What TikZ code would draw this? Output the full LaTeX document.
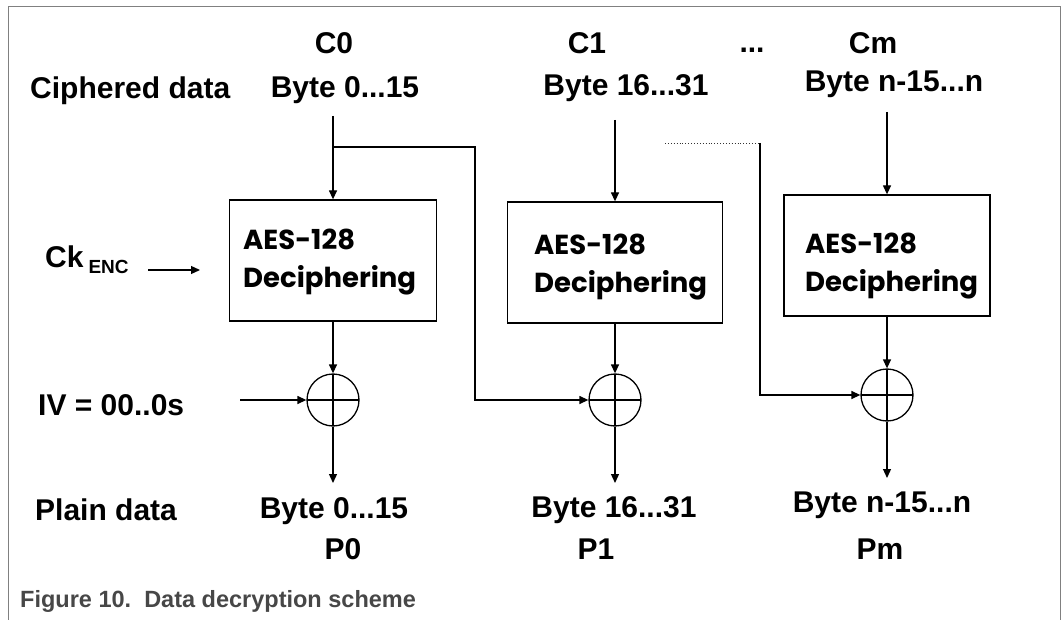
\documentclass[tikz,border=0pt]{standalone}
\usepackage{fontspec}
\setmainfont{Liberation Sans}
\newfontfamily\aesfont{Poppins}
\usetikzlibrary{arrows.meta}
\begin{document}
\begin{tikzpicture}[x=1pt,y=-1pt,
  lbl/.style={font=\fontsize{30}{36}\selectfont\bfseries, inner sep=0pt, anchor=base},
  lblw/.style={lbl, anchor=base west},
  aesbox/.style={draw, line width=1.3pt, minimum height=121pt, inner sep=0pt},
  aestext/.style={font=\aesfont\bfseries\fontsize{27.5}{38}\selectfont, align=left, anchor=north west, inner sep=0pt},
  xor/.style={circle, draw, minimum size=52pt, inner sep=0pt, line width=1.3pt,
    path picture={\draw[line width=1.3pt] (path picture bounding box.north) -- (path picture bounding box.south)
      (path picture bounding box.west) -- (path picture bounding box.east);}},
  arr/.style={-{Triangle[length=9pt,width=8pt]}, line width=1.3pt},
  frame/.style={draw=black!50, line width=1pt},
  caption/.style={font=\fontsize{23.5}{28}\selectfont\bfseries, text=black!72, inner sep=0pt, anchor=base west}
  ]
\useasboundingbox (0,0) rectangle (1064,620);
% frame
\draw[frame] (8,620) -- (8,7) -- (1060,7) -- (1060,620);

% top labels
\node[lbl] (c0) at (334,54) {C0};
\node[lblw] (cd) at (30,99) {Ciphered data};
\node[lbl] (c0b) at (345,98) {Byte 0...15};
\node[lbl] (c1) at (587,54) {C1};
\node[lbl] (c1b) at (626,96) {Byte 16...31};
\node[lbl] (dots) at (752,53) {...};
\node[lbl] (cm) at (873,54) {Cm};
\node[lbl] (cmb) at (894,92) {Byte n-15...n};

% key
\node[lblw] (ck) at (45,267) {Ck\hspace{5pt}\raisebox{-6pt}{\fontsize{19}{19}\selectfont ENC}};

% boxes
\node[aesbox, minimum width=207pt] (b1) at (333,260.5) {};
\node[aesbox, minimum width=215pt] (b2) at (615,262.5) {};
\node[aesbox, minimum width=206pt] (b3) at (887,255.5) {};
\node[aestext] (t1) at (243,229) {AES-128\\Deciphering};
\node[aestext] (t2) at (534,234) {AES-128\\Deciphering};
\node[aestext] (t3) at (805,233) {AES-128\\Deciphering};

% xors
\node[xor] (x1) at (333,400) {};
\node[xor] (x2) at (615,400) {};
\node[xor] (x3) at (887,395) {};

% side labels
\node[lblw] (iv) at (38,415) {IV = 00..0s};
\node[lblw] (pd) at (35,520) {Plain data};

% bottom labels
\node[lbl] (p0b) at (334,518) {Byte 0...15};
\node[lbl] (p0) at (343,559) {P0};
\node[lbl] (p1b) at (614,517) {Byte 16...31};
\node[lbl] (p1) at (596,559) {P1};
\node[lbl] (pmb) at (882,512) {Byte n-15...n};
\node[lbl] (pm) at (880,559) {Pm};

% caption
\node[caption] (cap) at (20,607) {Figure 10.\ \ Data decryption scheme};

% coordinates
\coordinate (c0s) at (333,116);
\coordinate (c1s) at (615,120);
\coordinate (cms) at (887,112);
\coordinate (br1) at (333,147);
\coordinate (t1c) at (475,147);
\coordinate (d1) at (665,143);
\coordinate (d2) at (760,143);
\coordinate (cks) at (148,270);
\coordinate (cke) at (200,270);
\coordinate (ivs) at (240,400);
\coordinate (o1) at (333,483);
\coordinate (o2) at (615,483);
\coordinate (o3) at (887,478);

% connectors
\draw[arr] (c0s) -- (b1.north);
\draw[arr] (c1s) -- (b2.north);
\draw[arr] (cms) -- (b3.north);
\draw[arr] (cks) -- (cke);
\draw[arr] (b1.south) -- (x1.north);
\draw[arr] (b2.south) -- (x2.north);
\draw[arr] (b3.south) -- (x3.north);
\draw[arr] (ivs) -- (x1.west);
\draw[arr] (br1) -- (t1c) |- (x2.west);
\draw[line width=0.9pt, dotted, black!80] (d1) -- (d2);
\draw[arr] (d2) |- (x3.west);
\draw[arr] (x1.south) -- (o1);
\draw[arr] (x2.south) -- (o2);
\draw[arr] (x3.south) -- (o3);
\end{tikzpicture}
\end{document}
